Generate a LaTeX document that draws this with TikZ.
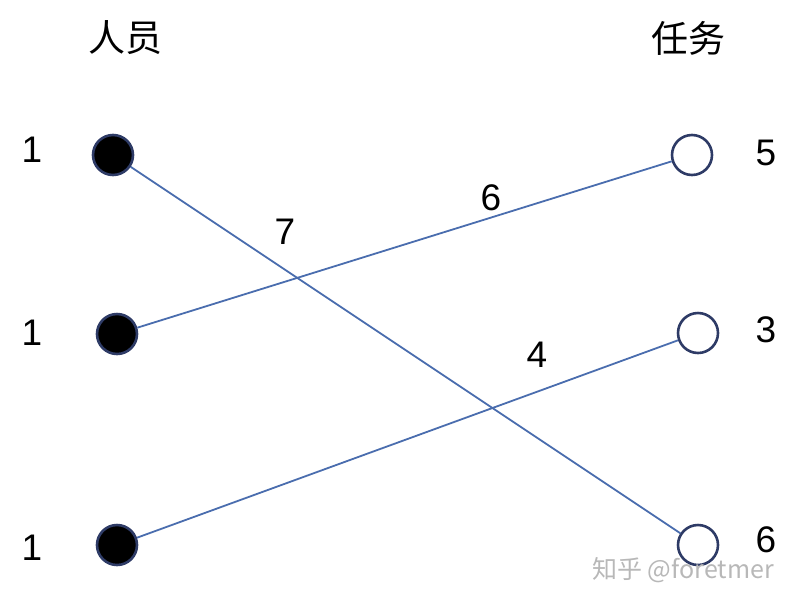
\documentclass[tikz,border=0pt]{standalone}
\usepackage{fontspec}
\setmainfont{Liberation Sans}
\newfontfamily\cjk{Noto Sans CJK SC}
\definecolor{ringblue}{HTML}{2E3B66}
\definecolor{lineblue}{HTML}{4A6DAE}
\begin{document}
\begin{tikzpicture}[
        x=1pt, y=-1pt,
        person/.style={draw=ringblue, circle, line width=2.6pt, minimum size=40pt, inner sep=0pt, fill=black},
        task/.style={draw=ringblue, circle, line width=2.6pt, minimum size=40pt, inner sep=0pt, fill=white},
        num/.style={font=\fontsize{37}{37}\selectfont, inner sep=1pt},
        head/.style={font=\cjk\fontsize{37}{37}\selectfont},
        match/.style={draw=lineblue, line width=1.8pt},
    ]
    \useasboundingbox (0,0) rectangle (802,600);
    \node[head](phead) at (125,38){人员};
    \node[head](thead) at (688,38){任务};
    \node[person](p1) at (113,155){};
    \node[person](p2) at (117,334){};
    \node[person](p3) at (117,545){};
    \node[task](t1) at (692,155){};
    \node[task](t2) at (698,333){};
    \node[task](t3) at (698,545){};
    \node[num](c1) at (32,150){1};
    \node[num](c2) at (32,333){1};
    \node[num](c3) at (32,548){1};
    \node[num](d1) at (766,153){5};
    \node[num](d2) at (766,330){3};
    \node[num](d3) at (766,540){6};
    \draw[match] (p1) -- (t3);
    \draw[match] (p2) -- (t1);
    \draw[match] (p3) -- (t2);
    \node[num](w1) at (285,232){7};
    \node[num](w2) at (491,198){6};
    \node[num](w3) at (537,355){4};
    \node[text=black!28, inner sep=0pt, font=\cjk\fontsize{25}{25}\selectfont](mark) at (683,570){知乎 @foretmer};
\end{tikzpicture}
\end{document}
